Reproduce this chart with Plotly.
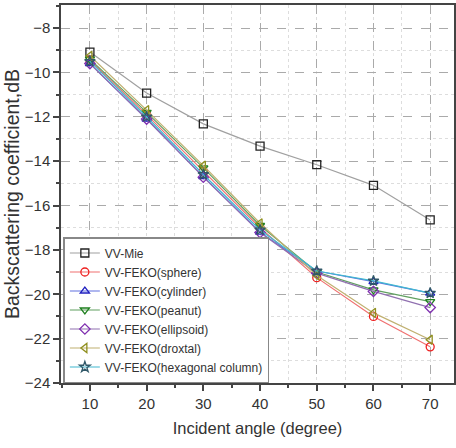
import plotly.graph_objects as go

# Incident angles (degree)
angles = [10, 20, 30, 40, 50, 60, 70]

# VV backscattering coefficient (dB)
vv_mie = [-9.08, -10.93, -12.32, -13.32, -14.16, -15.09, -16.65]
vv_sphere = [-9.45, -11.9, -14.45, -17.0, -19.25, -21.0, -22.37]
vv_cylinder = [-9.6, -12.1, -14.7, -17.2, -18.95, -19.43, -19.95]
vv_peanut = [-9.4, -11.8, -14.3, -16.9, -19.0, -19.8, -20.33]
vv_ellipsoid = [-9.6, -12.1, -14.72, -17.22, -19.05, -19.87, -20.6]
vv_droxtal = [-9.25, -11.7, -14.2, -16.8, -19.15, -20.84, -22.05]
vv_hexagonal = [-9.5, -12.0, -14.6, -17.1, -18.95, -19.4, -19.95]

series = [
    ("VV-Mie", vv_mie, "#a0a0a0", "#222222", "square-open"),
    ("VV-FEKO(sphere)", vv_sphere, "#f07070", "#ee2020", "circle-open"),
    ("VV-FEKO(cylinder)", vv_cylinder, "#6070e0", "#2020c0", "triangle-up-open"),
    ("VV-FEKO(peanut)", vv_peanut, "#60a060", "#208020", "triangle-down-open"),
    ("VV-FEKO(ellipsoid)", vv_ellipsoid, "#9070b0", "#8030b0", "diamond-open"),
    ("VV-FEKO(droxtal)", vv_droxtal, "#c0b070", "#909020", "triangle-left-open"),
    ("VV-FEKO(hexagonal column)", vv_hexagonal, "#40b8d0", "#305868", "star-open"),
]

fig = go.Figure()
for name, vals, lcol, mcol, sym in series:
    fig.add_trace(go.Scatter(
        x=angles, y=vals, name=name, mode="lines+markers",
        line=dict(color=lcol, width=1.2),
        marker=dict(symbol=sym, size=8, color=mcol, line=dict(width=1.3, color=mcol)),
    ))

axis_font = dict(family="Liberation Sans, Arial, sans-serif", size=15, color="#333333")

fig.update_layout(
    width=456, height=448,
    margin=dict(l=61, r=0, t=5, b=65),
    paper_bgcolor="white", plot_bgcolor="white",
    font=dict(family="Liberation Sans, Arial, sans-serif", color="#333333"),
    showlegend=True,
    legend=dict(
        x=0.006, y=0.0, xanchor="left", yanchor="bottom",
        bgcolor="white", bordercolor="#888888", borderwidth=1.5,
        font=dict(size=12, color="#333333"),
        tracegroupgap=0, itemwidth=30,
    ),
    xaxis=dict(
        range=[4.9, 74.2], tickmode="array", tickvals=angles,
        ticks="outside", ticklen=6, tickwidth=1.5, tickcolor="#444444",
        showline=True, linecolor="#444444", linewidth=1.5, mirror=True,
        showgrid=True, gridcolor="#aaaaaa", griddash="dash", gridwidth=1,
        zeroline=False, tickfont=axis_font,
        minor=dict(dtick=5, ticks="outside", ticklen=3, tickcolor="#444444",
                   showgrid=True, gridcolor="#dddddd", griddash="dot"),
        title=dict(text="Incident angle (degree)", font=dict(size=16.5, color="#333333"), standoff=12),
    ),
    yaxis=dict(
        range=[-24, -6.96], tickmode="linear", tick0=-24, dtick=2,
        ticks="outside", ticklen=6, tickwidth=1.5, tickcolor="#444444",
        showline=True, linecolor="#444444", linewidth=1.5, mirror=True,
        showgrid=True, gridcolor="#aaaaaa", griddash="dash", gridwidth=1,
        zeroline=False, tickfont=axis_font,
        minor=dict(dtick=1, ticks="outside", ticklen=3, tickcolor="#444444",
                   showgrid=True, gridcolor="#dddddd", griddash="dot"),
        title=dict(text="Backscattering coefficient,dB", font=dict(size=19.5, color="#333333"), standoff=0),
    ),
)

fig.write_html("out.html")
